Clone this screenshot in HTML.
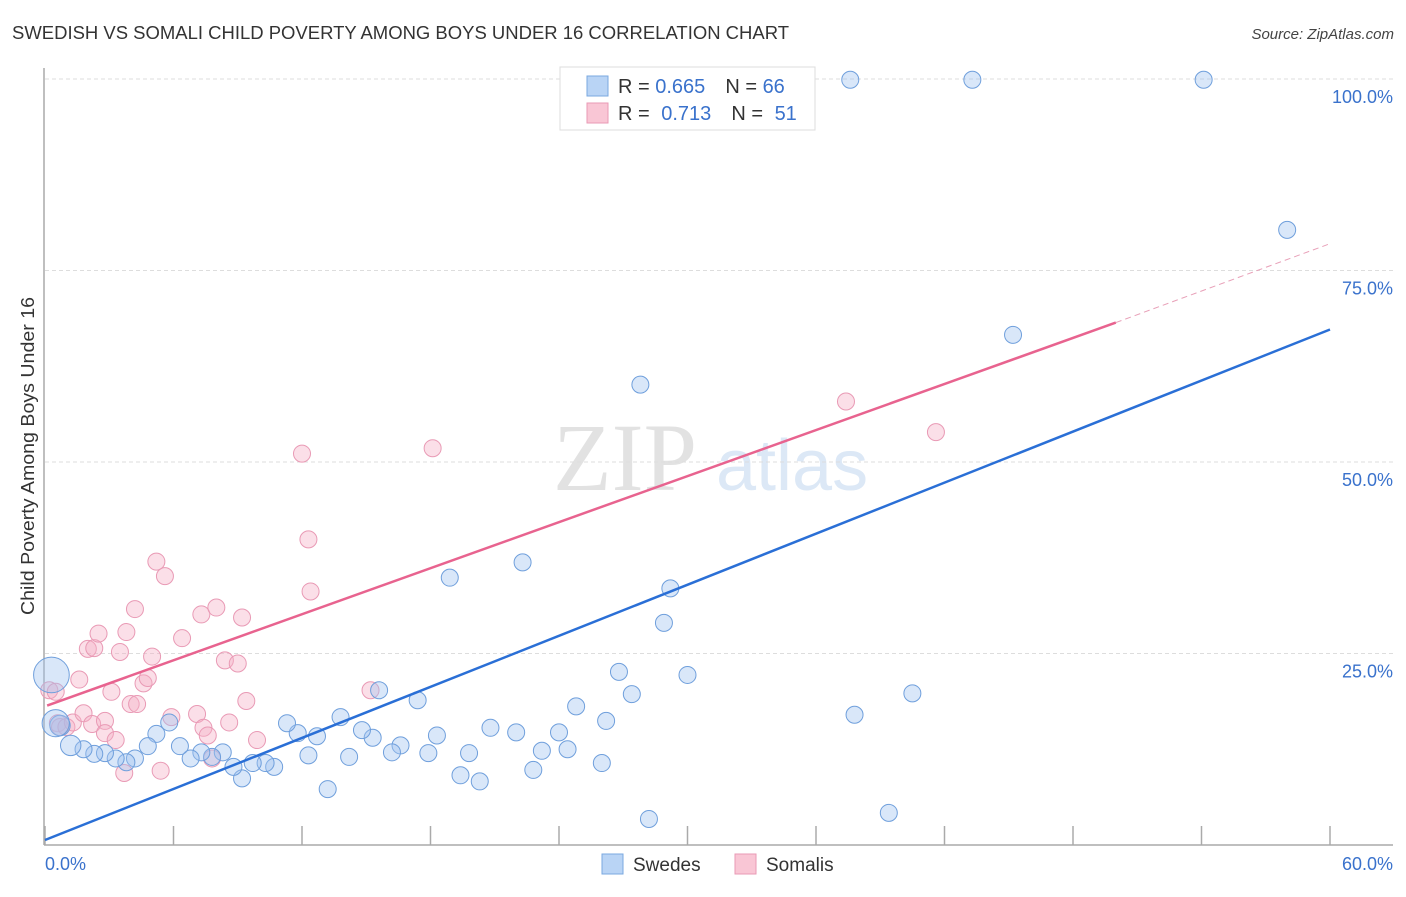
<!DOCTYPE html>
<html><head><meta charset="utf-8"><style>
body{margin:0;background:#fff;width:1406px;height:892px;overflow:hidden;font-family:"Liberation Sans",sans-serif}
svg text{font-family:"Liberation Sans",sans-serif}
</style></head><body>
<svg id="chart" width="1406" height="892">
<text x="12" y="39" font-size="18" fill="#333" textLength="777" lengthAdjust="spacingAndGlyphs">SWEDISH VS SOMALI CHILD POVERTY AMONG BOYS UNDER 16 CORRELATION CHART</text>
<text x="1394" y="39" font-size="15" font-style="italic" fill="#444" text-anchor="end">Source: ZipAtlas.com</text>
<g>
<text x="553" y="490" font-size="96" font-family="Liberation Serif" fill="#e2e2e2" style="font-family:'Liberation Serif',serif">ZIP</text>
<text x="716" y="490" font-size="72" fill="#dce8f6">atlas</text>
</g>
<g id="grid"></g>
<g id="axes"></g>
<g id="points"></g>
<g id="lines"></g>
<text transform="translate(34,456) rotate(-90)" font-size="18" fill="#333" text-anchor="middle" textLength="318" lengthAdjust="spacingAndGlyphs">Child Poverty Among Boys Under 16</text>
<g>
<rect x="560" y="67" width="255" height="63" fill="#fff" stroke="#ddd"/>
<rect x="587" y="76" width="21" height="20" fill="#b9d4f5" stroke="#7aa8e0"/>
<rect x="587" y="103" width="21" height="20" fill="#f9c6d5" stroke="#e99ab5"/>
<text x="618" y="93" font-size="20" fill="#333">R = <tspan fill="#3a72cc">0.665</tspan><tspan dx="20">N = </tspan><tspan fill="#3a72cc">66</tspan></text>
<text x="618" y="120" font-size="20" fill="#333">R = <tspan dx="6" fill="#3a72cc">0.713</tspan><tspan dx="20">N = </tspan><tspan dx="6" fill="#3a72cc">51</tspan></text>
</g>
<g>
<rect x="602" y="854" width="21" height="20" fill="#b9d4f5" stroke="#7aa8e0"/>
<text x="633" y="871" font-size="19" fill="#333">Swedes</text>
<rect x="735" y="854" width="21" height="20" fill="#f9c6d5" stroke="#e99ab5"/>
<text x="766" y="871" font-size="19" fill="#333">Somalis</text>
</g>
</svg>
<script>
const yTicks=[25,50,75,100];
const yTickLabels=["25.0%","50.0%","75.0%","100.0%"];
const xTicks=[0,6,12,18,24,30,36,42,48,54,60];
const xEndLabels=["0.0%","60.0%"];
const swedesX=[37.6,43.3,54.1,58.0,45.2,27.8,18.9,22.3,29.2,28.9,30.0,40.5,37.8,39.4,28.2,26.8,27.4,24.8,26.2,26.0,24.0,24.4,23.2,22.8,22.0,20.8,19.8,20.3,19.4,18.3,17.9,17.4,16.6,16.2,15.6,15.3,14.8,14.2,13.8,13.2,12.7,12.3,11.8,11.3,10.7,10.3,9.7,9.2,8.8,8.3,7.8,7.3,6.8,6.3,5.8,5.2,4.8,4.2,3.8,3.3,2.8,2.3,1.8,1.2,0.7,0.3,0.5];
const swedesY=[99.9,99.9,99.9,80.3,66.6,60.1,34.9,36.9,33.5,29.0,22.2,19.8,17.0,4.2,3.4,22.6,19.7,18.1,16.2,10.7,14.7,12.5,12.3,9.8,14.7,15.3,12.0,8.3,9.1,14.3,12.0,18.9,13.0,12.1,20.2,14.0,15.0,11.5,16.7,7.3,14.2,11.7,14.6,15.9,10.2,10.7,10.7,8.7,10.2,12.1,11.5,12.1,11.3,12.9,16.0,14.5,12.9,11.3,10.8,11.3,12.0,11.9,12.5,13.0,15.6,22.2,15.9];
const swedesSize=[1,1,1,1,1,1,1,1,1,1,1,1,1,1,1,1,1,1,1,1,1,1,1,1,1,1,1,1,1,1,1,1,1,1,1,1,1,1,1,1,1,1,1,1,1,1,1,1,1,1,1,1,1,1,1,1,1,1,1,1,1,1,1,1.2,1.2,2.1,1.6];
const somalisX=[0.2,0.5,0.6,0.7,1.0,1.3,1.6,1.8,2.0,2.3,2.5,2.2,2.8,2.8,3.1,3.3,3.5,3.7,3.8,4.2,4.0,4.3,4.6,4.8,5.0,5.2,5.4,5.6,5.9,6.4,7.1,7.3,7.4,7.6,7.8,8.0,8.4,8.6,9.0,9.2,9.4,9.9,12.0,12.3,12.4,15.2,18.1,37.4,41.6];
const somalisY=[20.2,20.0,15.9,15.4,15.4,16.0,21.6,17.2,25.6,25.7,27.6,15.8,16.2,14.6,20.0,13.7,25.2,9.4,27.8,30.8,18.4,18.4,21.1,21.8,24.6,37.0,9.7,35.1,16.7,27.0,17.1,30.1,15.3,14.3,11.3,31.0,24.1,16.0,23.7,29.7,18.8,13.7,51.1,39.9,33.1,20.2,51.8,57.9,53.9];
const blueLine=[0.65,67.3];
const pinkLine=[18.2,68.2,78.5];
const X0=45,X1=1330,Y0=845,Y100=79;
const sx=v=>X0+(X1-X0)*v/60;
const sy=v=>Y0-(Y0-Y100)*v/100;
const NS="http://www.w3.org/2000/svg";
function mk(tag,attrs,parent){const e=document.createElementNS(NS,tag);for(const k in attrs)e.setAttribute(k,attrs[k]);document.getElementById(parent).appendChild(e);return e;}
yTicks.forEach((t,i)=>{
 const g=mk('line',{x1:45,x2:1393,y1:sy(t),y2:sy(t),stroke:'#ddd','stroke-dasharray':'4,3'},'grid');
 
 
 const l=mk('text',{x:1393,y:sy(t)+24,'font-size':18,fill:'#3a72cc','text-anchor':'end'},'grid');
 l.textContent=yTickLabels[i];
 
 
});
const ax=mk('line',{x1:44,x2:44,y1:68,y2:845,stroke:'#aaa','stroke-width':1.5},'axes');


const bx=mk('line',{x1:44,x2:1393,y1:845,y2:845,stroke:'#aaa','stroke-width':1.5},'axes');


xTicks.forEach(t=>{
 const e=mk('line',{x1:sx(t),x2:sx(t),y1:826,y2:845,stroke:'#aaa','stroke-width':1.5},'axes');
 
 
});
const xl0=mk('text',{x:45,y:870,'font-size':18,fill:'#3a72cc'},'axes');xl0.textContent=xEndLabels[0];


const xl1=mk('text',{x:1393,y:870,'font-size':18,fill:'#3a72cc','text-anchor':'end'},'axes');xl1.textContent=xEndLabels[1];


somalisX.forEach((x,i)=>{
 const c=mk('circle',{cx:sx(x),cy:sy(somalisY[i]),r:8.5,fill:'rgba(245,175,198,0.4)',stroke:'#e99ab5','stroke-width':1},'points');
 
 
});
swedesX.forEach((x,i)=>{
 const c=mk('circle',{cx:sx(x),cy:sy(swedesY[i]),r:8.5*swedesSize[i],fill:'rgba(160,195,240,0.4)',stroke:'#6f9fdc','stroke-width':1},'points');
 
 
});
const bl=mk('line',{x1:sx(0),y1:sy(blueLine[0]),x2:sx(60),y2:sy(blueLine[1]),stroke:'#2a6fd6','stroke-width':2.5},'lines');


const pl=mk('line',{x1:sx(0.1),y1:sy(pinkLine[0]),x2:sx(50),y2:sy(pinkLine[1]),stroke:'#e8638f','stroke-width':2.5},'lines');


const pd=mk('line',{x1:sx(50),y1:sy(pinkLine[1]),x2:sx(60),y2:sy(pinkLine[2]),stroke:'#e8a0b8','stroke-width':1,'stroke-dasharray':'6,4'},'lines');


</script>
</body></html>
